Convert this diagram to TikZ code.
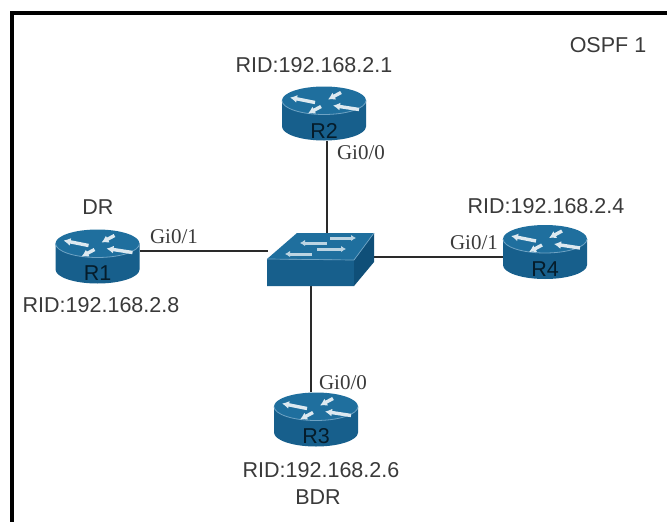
\documentclass[tikz,border=0pt]{standalone}
\usepackage{fontspec}
\setmainfont{Liberation Sans}
\newfontfamily\serifface{Liberation Serif}
\usetikzlibrary{arrows.meta,calc}
\definecolor{devtop}{HTML}{1F6F9E}
\definecolor{devside}{HTML}{175F8C}
\definecolor{devdark}{HTML}{0F4F78}
\definecolor{devrim}{HTML}{6FA3C4}
\definecolor{linkc}{HTML}{2A2A2A}
\definecolor{labelc}{HTML}{3A3A3A}
\tikzset{
  x=1pt,y=-1pt,
  linkline/.style={draw=linkc,line width=2pt},
  frameline/.style={draw=black,line width=4.5pt},
  sanslabel/.style={font=\fontsize{21.5}{23}\selectfont,text=labelc,inner sep=0pt},
  portlabel/.style={font=\serifface\fontsize{21}{23}\selectfont,text=labelc,inner sep=0pt},
  devname/.style={font=\fontsize{21.5}{23}\selectfont,text=black!65!devdark,inner sep=0pt},
  devanchor/.style={minimum width=84pt,minimum height=54pt,inner sep=0pt},
  whitearrow/.style={draw=white!85!devtop,line width=3.4pt,-{Latex[length=7pt,width=8pt]}},
  swarrow/.style={draw=white!70!devtop,line width=3pt,-{Latex[length=5pt,width=6.5pt]}}
}
\newcommand{\routerdev}[3]{%
  \node[devanchor] (#1) at (#2) {};
  \begin{scope}[shift={(#2)}]
    \fill[devside] (-42,-13) -- (-42,13) arc[start angle=180,end angle=0,x radius=42,y radius=14] -- (42,-13) -- cycle;
    \fill[devtop] (0,-13) ellipse[x radius=42,y radius=14];
    \draw[devrim,line width=.8pt] (-42,-13) arc[start angle=180,end angle=0,x radius=42,y radius=14];
    \draw[whitearrow] (-9,-11) -- (-34,-16);
    \draw[whitearrow] (17,-21) -- (4,-14);
    \draw[whitearrow] (-3,-7) -- (-16,0);
    \draw[whitearrow] (35,-4) -- (9,-8);
  \end{scope}
  \node[devname] at ($(#2)+(0,17)$) {#3};
}
\begin{document}
\begin{tikzpicture}
\useasboundingbox (0,0) rectangle (667,522);
\fill[white] (0,0) rectangle (667,522);
\draw[frameline] (12,522) -- (12,13) -- (667,13);
% anchors of the switch ports
\coordinate (swl) at (268,251);
\coordinate (swt) at (327,235);
\coordinate (swr) at (365,257);
\coordinate (swb) at (311,285);
% routers
\routerdev{r2}{324,113.5}{R2}
\routerdev{r1}{97.5,256.5}{R1}
\routerdev{r4}{545,252}{R4}
\routerdev{r3}{316,419.5}{R3}
% links
\draw[linkline] (r1.east |- swl) -- (swl);
\draw[linkline] (swt) -- (swt |- r2.south);
\draw[linkline] (swr) -- (r4.west |- swr);
\draw[linkline] (swb) -- (swb |- r3.north);
% switch
\node[inner sep=0pt,minimum width=106pt,minimum height=52pt] (sw) at (320,259) {};
\fill[devside] (267,259) -- (354,260) -- (354,286) -- (267,286) -- cycle;
\fill[devdark] (354,260) -- (374,233) -- (374,262) -- (354,286) -- cycle;
\fill[devtop] (267,259) -- (297,233) -- (374,233) -- (354,260) -- cycle;
\draw[devrim,line width=.7pt] (267,259) -- (354,260) -- (374,233);
\draw[swarrow] (330,238) -- (356,238);
\draw[swarrow] (327,243) -- (300,243);
\draw[swarrow] (317,249) -- (346,249);
\draw[swarrow] (312,254) -- (285,254);
% texts
\node[sanslabel] (t2) at (314,65) {RID:192.168.2.1};
\node[sanslabel] (t1) at (101,305) {RID:192.168.2.8};
\node[sanslabel] (t4) at (546,206) {RID:192.168.2.4};
\node[sanslabel] (t3) at (321,470) {RID:192.168.2.6};
\node[sanslabel] (tdr) at (98,207) {DR};
\node[sanslabel] (tbdr) at (318,497) {BDR};
\node[sanslabel] (tospf) at (608,45) {OSPF 1};
\node[portlabel] (p2) at (361,153) {Gi0/0};
\node[portlabel] (p1) at (174,237) {Gi0/1};
\node[portlabel] (p4) at (474,243) {Gi0/1};
\node[portlabel] (p3) at (343,383) {Gi0/0};
\end{tikzpicture}
\end{document}
